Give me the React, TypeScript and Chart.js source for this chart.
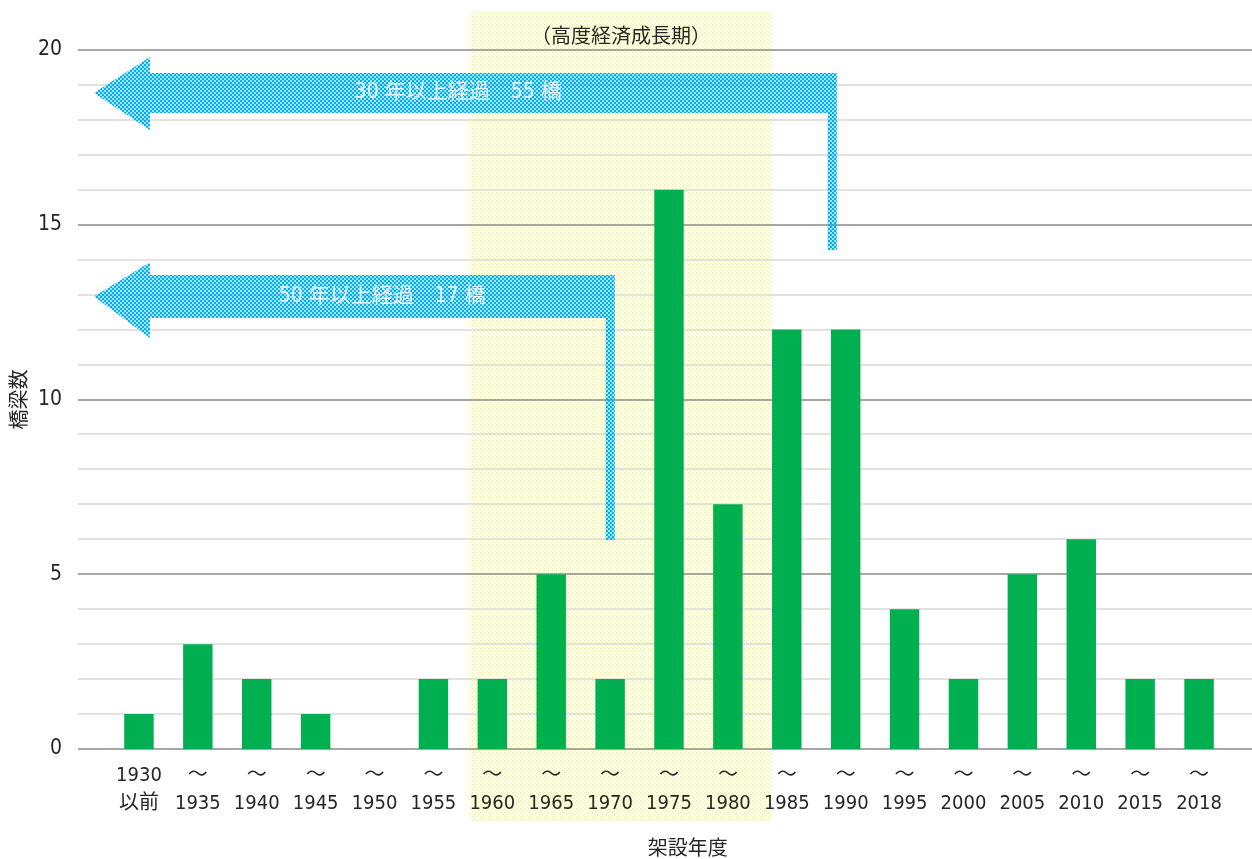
import React, { useEffect, useRef } from "react";
import { Chart, registerables } from "chart.js";

Chart.register(...registerables);

// ---- data ----
const categories: string[][] = [
  ["1930", "以前"],
  ["～", "1935"],
  ["～", "1940"],
  ["～", "1945"],
  ["～", "1950"],
  ["～", "1955"],
  ["～", "1960"],
  ["～", "1965"],
  ["～", "1970"],
  ["～", "1975"],
  ["～", "1980"],
  ["～", "1985"],
  ["～", "1990"],
  ["～", "1995"],
  ["～", "2000"],
  ["～", "2005"],
  ["～", "2010"],
  ["～", "2015"],
  ["～", "2018"],
];
const bridgeCounts: number[] = [1, 3, 2, 1, 0, 2, 2, 5, 2, 16, 7, 12, 12, 4, 2, 5, 6, 2, 2];
const yMax = 20;
const yMajorStep = 5;
const yMinorStep = 1;
const yTitle = "橋梁数";
const xTitle = "架設年度";
const periodLabel = "（高度経済成長期）";
const arrowLabels: string[] = ["30 年以上経過　55 橋", "50 年以上経過　17 橋"];

// ---- overlay geometry (in scale units: x = category index, y = value) ----
const BAND = { from: 5.62, to: 10.75, top: 21.09, bottom: -2.09, labelY: 20.42 };
const GRID_X = { from: -1.036 };
const ARROWS = [
  { tipX: -0.764, baseX: 0.187, endX: 11.85, tailW: 0.155, tipY: 18.77, bodyTop: 19.34, bodyBot: 18.2, headTop: 19.8, headBot: 17.71, tailEnd: 14.28, textX: 5.42 },
  { tipX: -0.764, baseX: 0.187, endX: 8.08, tailW: 0.155, tipY: 12.95, bodyTop: 13.56, bodyBot: 12.33, headTop: 13.93, headBot: 11.76, tailEnd: 5.98, textX: 4.13 },
];
const TITLE_POS = { xTitleX: 9.32, xTitleY: -2.82, yTitleX: -2.04, yTitleY: 10.0 };

const NUM_FONT = "'Liberation Sans Narrow', 'DejaVu Sans Condensed', 'Noto Sans CJK JP', sans-serif";
const CJK_FONT = "'Noto Sans CJK JP', sans-serif";
const TEXT_COLOR = "#262626";

function makePattern(ctx: CanvasRenderingContext2D, size: number, draw: (c: CanvasRenderingContext2D) => void) {
  const cv = document.createElement("canvas");
  cv.width = size;
  cv.height = size;
  const c = cv.getContext("2d")!;
  draw(c);
  return ctx.createPattern(cv, "repeat")!;
}

const overlayPlugin = {
  id: "overlay",
  beforeDraw(chart: any) {
    const { ctx, scales } = chart;
    const x = scales.x;
    const y = scales.y;
    const pat = makePattern(ctx, 4, (c) => {
      c.fillStyle = "#fdfef0";
      c.fillRect(0, 0, 4, 4);
      c.fillStyle = "#eef68a";
      c.fillRect(0, 0, 1, 1);
      c.fillRect(2, 2, 1, 1);
    });
    const l = x.getPixelForValue(BAND.from);
    const r = x.getPixelForValue(BAND.to);
    const t = y.getPixelForValue(BAND.top);
    const b = y.getPixelForValue(BAND.bottom);
    ctx.save();
    ctx.fillStyle = pat;
    ctx.fillRect(l, t, r - l, b - t);
    ctx.restore();
  },
  beforeDatasetsDraw(chart: any) {
    const { ctx, scales } = chart;
    const x = scales.x;
    const y = scales.y;
    const left = x.getPixelForValue(GRID_X.from);
    const right = chart.width;
    ctx.save();
    for (let v = 0; v <= yMax; v += yMinorStep) {
      if (v % yMajorStep === 0) continue;
      const py = Math.round(y.getPixelForValue(v));
      ctx.strokeStyle = "#d9d9d9";
      ctx.lineWidth = 1.5;
      ctx.beginPath();
      ctx.moveTo(left, py);
      ctx.lineTo(right, py);
      ctx.stroke();
    }
    for (let v = 0; v <= yMax; v += yMajorStep) {
      const py = Math.round(y.getPixelForValue(v));
      ctx.strokeStyle = "#8a8a8a";
      ctx.lineWidth = 1.5;
      ctx.beginPath();
      ctx.moveTo(left, py);
      ctx.lineTo(right, py);
      ctx.stroke();
    }
    // period label
    ctx.fillStyle = TEXT_COLOR;
    ctx.font = `20px ${CJK_FONT}`;
    ctx.textAlign = "center";
    ctx.textBaseline = "middle";
    ctx.fillText(periodLabel, x.getPixelForValue((BAND.from + BAND.to) / 2), y.getPixelForValue(BAND.labelY));
    ctx.restore();
  },
  afterDatasetsDraw(chart: any) {
    const { ctx, scales } = chart;
    const x = scales.x;
    const y = scales.y;
    const pat = makePattern(ctx, 4, (c) => {
      c.fillStyle = "#00b0f0";
      c.fillRect(0, 0, 2, 2);
      c.fillRect(2, 2, 2, 2);
      c.fillStyle = "rgba(0,176,240,0.35)";
      c.fillRect(2, 0, 2, 2);
      c.fillRect(0, 2, 2, 2);
    });
    ctx.save();
    ARROWS.forEach((a, i) => {
      const X = (v: number) => x.getPixelForValue(v);
      const Y = (v: number) => y.getPixelForValue(v);
      ctx.beginPath();
      ctx.moveTo(X(a.tipX), Y(a.tipY));
      ctx.lineTo(X(a.baseX), Y(a.headTop));
      ctx.lineTo(X(a.baseX), Y(a.bodyTop));
      ctx.lineTo(X(a.endX), Y(a.bodyTop));
      ctx.lineTo(X(a.endX), Y(a.tailEnd));
      ctx.lineTo(X(a.endX - a.tailW), Y(a.tailEnd));
      ctx.lineTo(X(a.endX - a.tailW), Y(a.bodyBot));
      ctx.lineTo(X(a.baseX), Y(a.bodyBot));
      ctx.lineTo(X(a.baseX), Y(a.headBot));
      ctx.closePath();
      ctx.fillStyle = pat;
      ctx.fill();
      ctx.fillStyle = "rgba(255,255,255,0.85)";
      ctx.font = `21px ${NUM_FONT}`;
      ctx.textAlign = "center";
      ctx.textBaseline = "middle";
      ctx.fillText(arrowLabels[i], X(a.textX), Y(a.tipY));
    });
    // axis titles
    ctx.fillStyle = TEXT_COLOR;
    ctx.font = `20px ${CJK_FONT}`;
    ctx.textAlign = "center";
    ctx.textBaseline = "middle";
    ctx.fillText(xTitle, x.getPixelForValue(TITLE_POS.xTitleX), y.getPixelForValue(TITLE_POS.xTitleY));
    ctx.translate(x.getPixelForValue(TITLE_POS.yTitleX), y.getPixelForValue(TITLE_POS.yTitleY));
    ctx.rotate(-Math.PI / 2);
    ctx.fillText(yTitle, 0, 0);
    ctx.restore();
  },
};

export default function App() {
  const ref = useRef<HTMLCanvasElement | null>(null);
  useEffect(() => {
    if (!ref.current) return;
    const chart = new Chart(ref.current, {
      type: "bar",
      data: {
        labels: categories as any,
        datasets: [
          {
            data: bridgeCounts,
            backgroundColor: "#00b050",
            borderWidth: 0,
            categoryPercentage: 1,
            barPercentage: 0.5,
          },
        ],
      },
      options: {
        responsive: false,
        animation: false,
        layout: { padding: { top: 50, right: 23.5, left: 0, bottom: 0 } },
        plugins: { legend: { display: false }, tooltip: { enabled: false } },
        scales: {
          x: {
            grid: { display: false, drawTicks: false },
            border: { display: false },
            ticks: {
              color: TEXT_COLOR,
              font: { family: NUM_FONT, size: 20, lineHeight: 1.4 },
              padding: 13,
              maxRotation: 0,
              autoSkip: false,
            },
            afterFit: (s: any) => {
              s.height = 110;
              s.paddingLeft = 0;
              s.paddingRight = 0;
            },
          },
          y: {
            min: 0,
            max: yMax,
            grid: { display: false, drawTicks: false },
            border: { display: false },
            ticks: {
              stepSize: yMajorStep,
              color: TEXT_COLOR,
              font: { family: NUM_FONT, size: 21 },
              padding: 47.5,
            },
            afterFit: (s: any) => {
              s.width = 109.5;
              s.paddingTop = 0;
              s.paddingBottom = 0;
            },
          },
        },
      },
      plugins: [overlayPlugin],
    });
    return () => chart.destroy();
  }, []);
  return (
    <div style={{ position: "absolute", left: 0, top: 0, width: 1252, height: 859 }}>
      <canvas ref={ref} width={1252} height={859} style={{ display: "block" }} />
    </div>
  );
}
